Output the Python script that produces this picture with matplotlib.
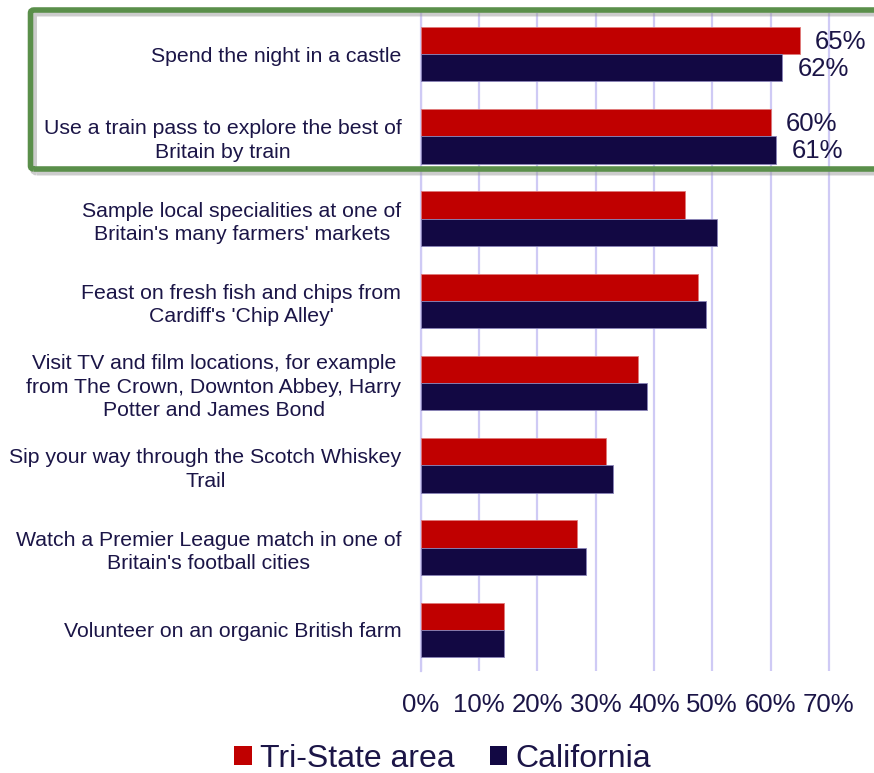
import matplotlib
matplotlib.use("Agg")
import matplotlib.pyplot as plt
from matplotlib.patches import Patch, FancyBboxPatch
from matplotlib.ticker import FuncFormatter

plt.rcParams['font.family'] = ['Liberation Sans', 'DejaVu Sans']

categories = [
    "Spend the night in a castle",
    "Use a train pass to explore the best of\nBritain by train",
    "Sample local specialities at one of\nBritain's many farmers' markets",
    "Feast on fresh fish and chips from\nCardiff's 'Chip Alley'",
    "Visit TV and film locations, for example\nfrom The Crown, Downton Abbey, Harry\nPotter and James Bond",
    "Sip your way through the Scotch Whiskey\nTrail",
    "Watch a Premier League match in one of\nBritain's football cities",
    "Volunteer on an organic British farm",
]
tri_state = [0.65, 0.60, 0.454, 0.476, 0.373, 0.318, 0.268, 0.143]
california = [0.62, 0.61, 0.509, 0.489, 0.388, 0.329, 0.284, 0.143]
labelled_groups = 2
series_names = ["Tri-State area", "California"]
xticks = [0, 0.1, 0.2, 0.3, 0.4, 0.5, 0.6, 0.7]

RED = "#C00000"
NAVY = "#120843"
TXT = "#1b1547"
GRID = "#cfcaf5"

W, H = 874, 773
fig = plt.figure(figsize=(W / 100, H / 100), dpi=100)
ax = fig.add_axes([420.7 / W, 102 / H, 1 - 420.7 / W, (671 - 13) / H])

h = 0.33
ys = list(range(len(categories)))
ax.barh([y - h / 2 for y in ys], tri_state, height=h, color=RED,
        edgecolor="#e07a7a", linewidth=0.6, zorder=3)
ax.barh([y + h / 2 for y in ys], california, height=h, color=NAVY,
        edgecolor="#8a84b8", linewidth=0.6, zorder=3)

for i in range(labelled_groups):
    ax.annotate(f"{tri_state[i]*100:.0f}%", (tri_state[i], i - h / 2),
                xytext=(11, -1), textcoords="offset points", va="center",
                ha="left", fontsize=18.5, color=TXT)
    ax.annotate(f"{california[i]*100:.0f}%", (california[i], i + h / 2),
                xytext=(11, -1), textcoords="offset points", va="center",
                ha="left", fontsize=18.5, color=TXT)

ax.set_xlim(0, (W - 420.7) / 583.0)
ax.set_ylim(len(categories) - 0.5, -0.5)
ax.set_xticks(xticks)
ax.xaxis.set_major_formatter(FuncFormatter(lambda v, p: f"{v*100:.0f}%"))
ax.set_yticks(ys)
ax.set_yticklabels(categories, fontsize=15.3, color=TXT, linespacing=1.3)
ax.tick_params(axis="y", length=0, pad=14)
ax.tick_params(axis="x", length=0, pad=16, labelsize=18.5, labelcolor=TXT)
for lab in ax.get_yticklabels():
    lab.set_multialignment("center")

ax.grid(axis="x", color=GRID, linewidth=1.6, zorder=0)
ax.set_axisbelow(True)
for s in ["top", "right", "bottom"]:
    ax.spines[s].set_visible(False)
ax.spines["left"].set_color(GRID)
ax.spines["left"].set_linewidth(1.6)

# highlight box with shadow
x0, y0 = 30.5 / W, (H - 169) / H
bw, bh = 1.2, (169 - 10) / H
shadow = FancyBboxPatch((x0 + 3 / W, y0 - 3 / H), bw, bh,
                        boxstyle="round,pad=0,rounding_size=0.004",
                        transform=fig.transFigure, fill=False,
                        edgecolor="#9a9a9a", linewidth=5, alpha=0.5, zorder=9)
box = FancyBboxPatch((x0, y0), bw, bh,
                     boxstyle="round,pad=0,rounding_size=0.004",
                     transform=fig.transFigure, fill=False,
                     edgecolor="#5a8f4a", linewidth=4, zorder=10)
fig.patches.extend([shadow, box])

handles = [Patch(facecolor=RED, edgecolor="none"),
           Patch(facecolor=NAVY, edgecolor="none")]
leg = fig.legend(handles, series_names, loc="center",
                 bbox_to_anchor=(442.5 / W, 14 / H), ncol=2, frameon=False,
                 fontsize=23, handlelength=0.55, handleheight=0.55,
                 handletextpad=0.25, columnspacing=1.1)
for t in leg.get_texts():
    t.set_color(TXT)

fig.savefig("out.png", dpi=100)
